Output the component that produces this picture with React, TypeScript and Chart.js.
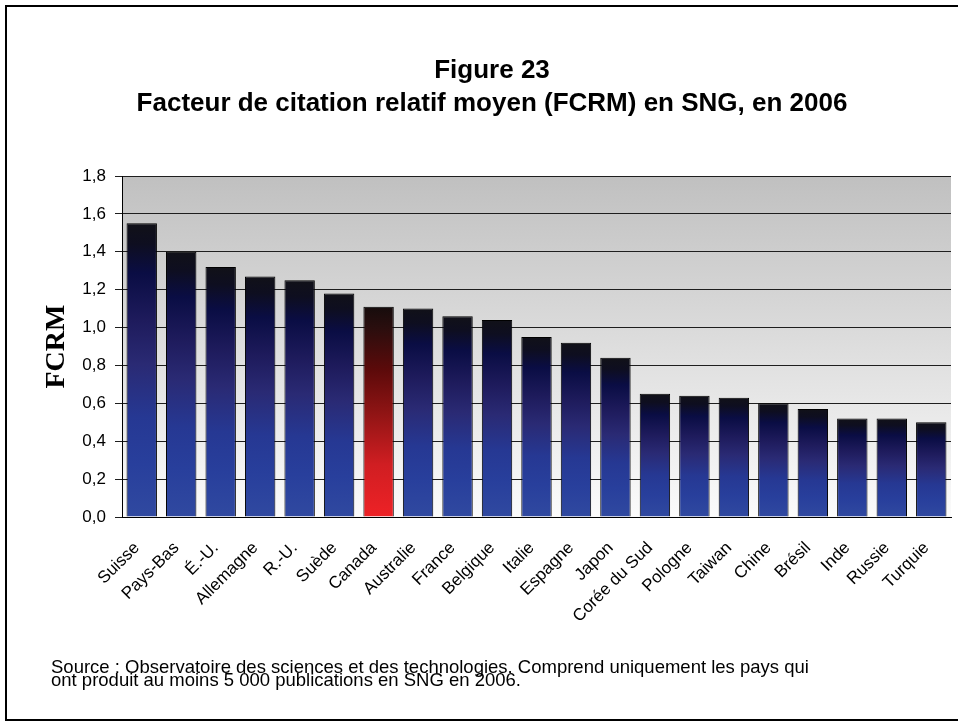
import { useEffect, useRef } from "react";
import { Chart, registerables } from "chart.js";

Chart.register(...registerables);

// Mean relative citation factor by country, 2006
const countries = [
  "Suisse", "Pays-Bas", "É.-U.", "Allemagne", "R.-U.", "Suède", "Canada",
  "Australie", "France", "Belgique", "Italie", "Espagne", "Japon",
  "Corée du Sud", "Pologne", "Taiwan", "Chine", "Brésil", "Inde", "Russie", "Turquie",
];
const fcrm = [
  1.55, 1.40, 1.32, 1.27, 1.25, 1.18, 1.11,
  1.10, 1.06, 1.04, 0.95, 0.92, 0.84,
  0.65, 0.64, 0.63, 0.60, 0.57, 0.52, 0.52, 0.50,
];
const highlighted = "Canada";
const yTickLabels = ["0,0", "0,2", "0,4", "0,6", "0,8", "1,0", "1,2", "1,4", "1,6", "1,8"];

const titleLines = ["Figure 23", "Facteur de citation relatif moyen (FCRM) en SNG, en 2006"];
const yTitle = "FCRM";
const sourceLines = [
  "Source : Observatoire des sciences et des technologies. Comprend uniquement les pays qui",
  "ont produit au moins 5 000 publications en SNG en 2006.",
];

const blueStops: [number, string][] = [
  [0, "#111118"],
  [0.07, "#0e0e20"],
  [0.17, "#0a0d44"],
  [0.33, "#1e1b5c"],
  [0.48, "#2a2a74"],
  [0.66, "#263893"],
  [0.82, "#283f9c"],
  [1, "#3049a0"],
];
const redStops: [number, string][] = [
  [0, "#160c0c"],
  [0.1, "#2a0e0e"],
  [0.3, "#5c0a0a"],
  [0.5, "#8e1414"],
  [0.75, "#d01e22"],
  [1, "#ee2226"],
];

const FONT = "'Liberation Sans', Arial, sans-serif";

const decorPlugin = {
  id: "decor",
  beforeDraw(chart: any) {
    const { ctx, chartArea } = chart;
    if (!chartArea) return;
    ctx.save();
    ctx.fillStyle = "#ffffff";
    ctx.fillRect(0, 0, chart.width, chart.height);
    const g = ctx.createLinearGradient(0, chartArea.top, 0, chartArea.bottom);
    g.addColorStop(0, "#c0c0c0");
    g.addColorStop(1, "#fbfbfb");
    ctx.fillStyle = g;
    ctx.fillRect(chartArea.left, chartArea.top, chartArea.right - chartArea.left, chartArea.bottom - chartArea.top);
    ctx.restore();
  },
  afterDraw(chart: any) {
    const { ctx, chartArea, scales } = chart;
    ctx.save();
    // frame (right edge runs past the canvas)
    ctx.strokeStyle = "#000";
    ctx.lineWidth = 2;
    ctx.strokeRect(6, 6, 980, 714);

    // title
    ctx.fillStyle = "#000";
    ctx.textAlign = "center";
    ctx.textBaseline = "alphabetic";
    ctx.font = `bold 26px ${FONT}`;
    ctx.fillText(titleLines[0], 492, 78);
    ctx.fillText(titleLines[1], 492, 111);

    // y-axis title
    ctx.save();
    ctx.translate(57, (chartArea.top + chartArea.bottom) / 2);
    ctx.rotate(-Math.PI / 2);
    ctx.font = "bold 28px 'Liberation Serif', 'Times New Roman', serif";
    ctx.textBaseline = "middle";
    ctx.fillText(yTitle, 0, 0);
    ctx.restore();

    // category labels, slanted 45°
    const xs = scales.x;
    ctx.font = `17px ${FONT}`;
    ctx.textAlign = "right";
    ctx.textBaseline = "alphabetic";
    chart.data.labels.forEach((label: string, i: number) => {
      const cx = xs.getPixelForValue(i);
      ctx.save();
      ctx.translate(cx - 1.5, chartArea.bottom + 31.5);
      ctx.rotate(-Math.PI / 4);
      ctx.fillText(label, 0, 0);
      ctx.restore();
    });

    // source note
    ctx.textAlign = "left";
    ctx.font = `18.5px ${FONT}`;
    ctx.fillText(sourceLines[0], 51, 673);
    ctx.fillText(sourceLines[1], 51, 686);
    ctx.restore();
  },
};

function barFill(context: any) {
  const chart = context.chart;
  const { chartArea, scales } = chart;
  const stops = countries[context.dataIndex] === highlighted ? redStops : blueStops;
  if (!chartArea || !scales.y || context.parsed == null) return stops[stops.length - 1][1];
  const top = scales.y.getPixelForValue(context.parsed.y);
  const base = scales.y.getPixelForValue(0);
  const g = chart.ctx.createLinearGradient(0, top, 0, base);
  for (const [o, c] of stops) g.addColorStop(o, c);
  return g;
}

export default function App() {
  const canvasRef = useRef<HTMLCanvasElement | null>(null);

  useEffect(() => {
    const canvas = canvasRef.current;
    if (!canvas) return;
    const chart = new Chart(canvas, {
      type: "bar",
      data: {
        labels: countries,
        datasets: [
          {
            data: fcrm,
            backgroundColor: barFill,
            borderColor: "#000000",
            borderWidth: 1,
            barPercentage: 0.77,
            categoryPercentage: 1,
          },
        ],
      },
      plugins: [decorPlugin],
      options: {
        responsive: false,
        animation: false,
        devicePixelRatio: 1,
        layout: { padding: { top: 176, right: 7, left: 0, bottom: 0 } },
        plugins: {
          legend: { display: false },
          title: { display: false },
          tooltip: { enabled: false },
        },
        scales: {
          x: {
            grid: { display: false },
            border: { display: true, color: "#000", width: 1 },
            ticks: { display: false },
            afterFit: (s: any) => {
              s.height = 207;
            },
          },
          y: {
            min: 0,
            max: 1.8,
            grid: { color: "#1e1e1e", lineWidth: 1, tickLength: 7, drawTicks: true },
            border: { display: true, color: "#000", width: 1 },
            ticks: {
              stepSize: 0.2,
              color: "#000",
              font: { family: FONT, size: 17 },
              padding: 9,
              callback: (_v: any, i: number) => yTickLabels[i],
            },
            afterFit: (s: any) => {
              s.width = 122;
            },
          },
        },
      },
    });
    return () => chart.destroy();
  }, []);

  return (
    <div style={{ position: "absolute", left: 0, top: 0, width: 958, height: 724, background: "#fff" }}>
      <canvas ref={canvasRef} width={958} height={724} style={{ display: "block", width: 958, height: 724 }} />
    </div>
  );
}
